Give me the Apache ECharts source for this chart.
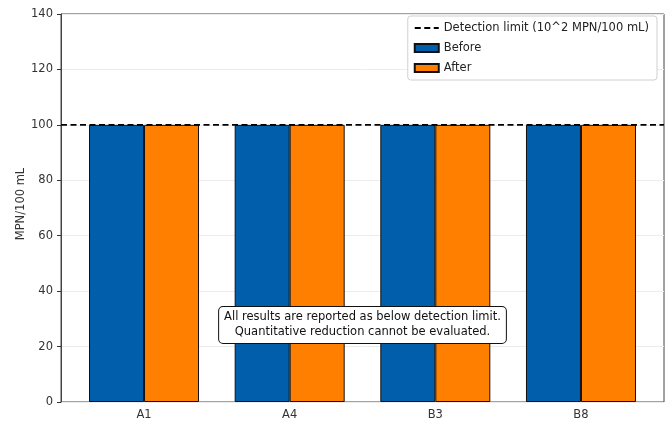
<!DOCTYPE html>
<html>
<head>
<meta charset="utf-8">
<script src="https://cdn.jsdelivr.net/npm/echarts@6/dist/echarts.min.js"></script>
<style>
  html, body { margin: 0; padding: 0; background: #fff; }
  #chart { width: 669px; height: 423px; }
</style>
</head>
<body>
<div id="chart"></div>
<script>
// 数据
const sites = ['A1', 'A4', 'B3', 'B8'];
const beforeValues = [100, 100, 100, 100];
const afterValues = [100, 100, 100, 100];
const detectionLimit = 100;
const yTicks = [0, 20, 40, 60, 80, 100, 120, 140];

const FONT = 'DejaVu Sans';
const LIMIT_NAME = 'Detection limit (10^2 MPN/100 mL)';
const Y_NAME = 'MPN/100 mL';
const note = 'All results are reported as below detection limit.\nQuantitative reduction cannot be evaluated.';

const chart = echarts.init(document.getElementById('chart'));

chart.setOption({
    animation: false,
    textStyle: { fontFamily: FONT },
    grid: [
        // 柱状图区域 (略窄, 模拟 matplotlib 的 xlim 边距)
        { left: 71.2, right: 15.2, top: 14, bottom: 21 },
        // 外框 + y 轴
        { left: 61, right: 5, top: 14, bottom: 21, show: true, borderColor: '#444', borderWidth: 1, backgroundColor: 'transparent' }
    ],
    legend: {
        orient: 'vertical',
        right: 12,
        top: 16,
        itemWidth: 24,
        itemHeight: 8,
        itemGap: 8,
        padding: [6, 8, 6, 6],
        backgroundColor: '#fff',
        borderColor: '#d0d0d0',
        borderWidth: 1,
        borderRadius: 3,
        textStyle: { fontFamily: FONT, fontSize: 11.5, color: '#222' },
        data: [
            { name: LIMIT_NAME, itemStyle: { opacity: 0 } },
            { name: 'Before', icon: 'rect' },
            { name: 'After', icon: 'rect' }
        ]
    },
    xAxis: [
        {
            type: 'category',
            gridIndex: 0,
            data: sites,
            axisLine: { show: false },
            axisTick: { alignWithLabel: true, length: 4, lineStyle: { color: '#333' } },
            axisLabel: { fontFamily: FONT, fontSize: 11.5, color: '#333', margin: 7 }
        },
        { type: 'value', gridIndex: 1, min: 0, max: 1, show: false }
    ],
    yAxis: [
        { type: 'value', gridIndex: 0, min: 0, max: yTicks[yTicks.length - 1], show: false },
        {
            type: 'value',
            gridIndex: 1,
            min: yTicks[0],
            max: yTicks[yTicks.length - 1],
            interval: yTicks[1] - yTicks[0],
            axisLine: { show: true, lineStyle: { color: '#444' } },
            axisTick: { show: true, length: 4, lineStyle: { color: '#333' } },
            axisLabel: { fontFamily: FONT, fontSize: 11.5, color: '#333', margin: 8 },
            splitLine: { show: true, lineStyle: { color: '#ececec', width: 1 } }
        }
    ],
    series: [
        {
            name: 'Before',
            type: 'bar',
            xAxisIndex: 0,
            yAxisIndex: 0,
            barWidth: 55,
            barGap: '0%',
            data: beforeValues,
            itemStyle: { color: '#005EAA', borderColor: '#111', borderWidth: 1 }
        },
        {
            name: 'After',
            type: 'bar',
            xAxisIndex: 0,
            yAxisIndex: 0,
            barWidth: 55,
            barGap: '0%',
            data: afterValues,
            itemStyle: { color: '#FF8000', borderColor: '#111', borderWidth: 1 }
        },
        {
            name: LIMIT_NAME,
            type: 'line',
            xAxisIndex: 1,
            yAxisIndex: 1,
            symbol: 'none',
            z: 5,
            data: [[0, detectionLimit], [1, detectionLimit]],
            lineStyle: { color: '#000', width: 1.6, type: [6, 3.5] },
            itemStyle: { color: '#000' }
        }
    ],
    graphic: [
        // y 轴标题
        {
            type: 'text',
            x: 21,
            y: 204,
            rotation: Math.PI / 2,
            style: {
                text: Y_NAME,
                align: 'center',
                verticalAlign: 'middle',
                fontFamily: FONT,
                fontSize: 11.5,
                fill: '#333'
            }
        },
        // 说明框
        {
            type: 'text',
            x: 362.5,
            y: 325,
            z: 100,
            style: {
                text: note,
                align: 'center',
                verticalAlign: 'middle',
                fontFamily: FONT,
                fontSize: 11.5,
                lineHeight: 15,
                fill: '#111',
                backgroundColor: '#fff',
                borderColor: '#111',
                borderWidth: 1,
                borderRadius: 4,
                padding: [3, 5]
            }
        }
    ]
});
</script>
</body>
</html>
